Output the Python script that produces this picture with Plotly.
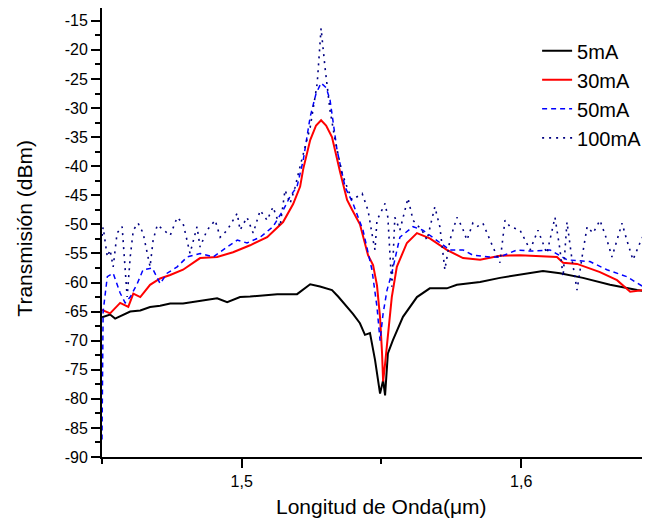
import plotly.graph_objects as go

# ---- data (wavelength in um, transmission in dBm) ----
x_5mA = [1.4500, 1.4511, 1.4529, 1.4547, 1.4572, 1.4601, 1.4637, 1.4672, 1.4708, 1.4744,
         1.4790, 1.4833, 1.4869, 1.4912, 1.4948, 1.4994, 1.5030, 1.5077, 1.5127, 1.5198,
         1.5245, 1.5280, 1.5323, 1.5345, 1.5370, 1.5398, 1.5423, 1.5441, 1.5459, 1.5477,
         1.5495, 1.5506, 1.5513, 1.5523, 1.5541, 1.5577, 1.5627, 1.5673, 1.5734, 1.5770,
         1.5853, 1.5924, 1.6078, 1.6139, 1.6221, 1.6318, 1.6415, 1.6461]
y_5mA = [-66.0, -65.8, -65.5, -66.2, -65.6, -65.0, -64.8, -64.2, -64.0, -63.6,
         -63.6, -63.3, -63.0, -62.7, -63.4, -62.5, -62.4, -62.2, -62.0, -62.0,
         -60.3, -60.7, -61.3, -62.4, -63.8, -65.4, -67.0, -69.0, -68.7, -73.3,
         -79.1, -76.8, -79.4, -72.2, -69.9, -65.9, -62.5, -61.0, -61.0, -60.4,
         -59.9, -59.2, -58.0, -58.4, -59.2, -60.4, -61.3, -61.6]

x_30mA = [1.4500, 1.4529, 1.4565, 1.4594, 1.4612, 1.4637, 1.4672, 1.4708, 1.4744, 1.4790,
          1.4851, 1.4912, 1.4969, 1.5030, 1.5091, 1.5148, 1.5184, 1.5209, 1.5220, 1.5245,
          1.5266, 1.5284, 1.5302, 1.5323, 1.5352, 1.5377, 1.5395, 1.5423, 1.5452, 1.5470,
          1.5484, 1.5495, 1.5502, 1.5506, 1.5513, 1.5520, 1.5530, 1.5537, 1.5555, 1.5591,
          1.5627, 1.5673, 1.5734, 1.5792, 1.5853, 1.5924, 1.5996, 1.6128, 1.6150, 1.6200,
          1.6282, 1.6343, 1.6390, 1.6436, 1.6461]
y_30mA = [-64.7, -65.3, -63.5, -64.2, -61.9, -62.5, -60.4, -59.3, -58.7, -57.8,
          -55.8, -55.6, -54.8, -53.6, -52.2, -49.6, -46.5, -43.5, -40.5, -35.5,
          -33.0, -32.1, -33.0, -35.0, -41.0, -45.8, -47.5, -50.0, -55.3, -57.0,
          -60.5, -66.0, -72.0, -77.0, -74.0, -70.5, -65.5, -62.5, -57.3, -53.2,
          -51.5, -52.4, -54.4, -55.8, -56.1, -55.4, -55.3, -55.6, -56.6, -56.8,
          -58.2, -59.6, -61.6, -61.3, -62.2]

x_50mA = [1.4500, 1.4501, 1.4504, 1.4519, 1.4540, 1.4565, 1.4583, 1.4601, 1.4626, 1.4647,
          1.4680, 1.4708, 1.4733, 1.4769, 1.4805, 1.4851, 1.4898, 1.4948, 1.4984, 1.5019,
          1.5066, 1.5112, 1.5148, 1.5173, 1.5198, 1.5220, 1.5245, 1.5266, 1.5284, 1.5302,
          1.5316, 1.5341, 1.5370, 1.5398, 1.5434, 1.5466, 1.5484, 1.5495, 1.5506, 1.5520,
          1.5537, 1.5566, 1.5613, 1.5648, 1.5698, 1.5745, 1.5792, 1.5827, 1.5888, 1.5924,
          1.5985, 1.6032, 1.6103, 1.6164, 1.6246, 1.6307, 1.6378, 1.6436, 1.6461]
y_50mA = [-87.0, -75.0, -65.0, -59.0, -58.4, -61.8, -63.5, -62.5, -60.2, -57.8,
          -57.5, -60.2, -58.4, -57.3, -55.6, -55.0, -55.6, -53.9, -52.7, -53.2,
          -52.2, -50.4, -47.6, -45.2, -43.5, -39.0, -31.5, -27.5, -25.7, -26.5,
          -28.6, -37.2, -43.6, -46.4, -51.0, -57.8, -64.2, -70.0, -65.3, -61.3,
          -58.4, -52.2, -50.4, -51.0, -52.7, -54.4, -54.4, -55.3, -55.6, -55.6,
          -54.4, -54.6, -54.4, -56.1, -56.4, -57.8, -59.0, -60.7, -60.5]

x_100mA = [1.4500, 1.4504, 1.4519, 1.4529, 1.4540, 1.4554, 1.4572, 1.4590, 1.4601, 1.4612,
           1.4629, 1.4647, 1.4672, 1.4683, 1.4698, 1.4719, 1.4744, 1.4769, 1.4790, 1.4815,
           1.4840, 1.4851, 1.4876, 1.4905, 1.4923, 1.4948, 1.4984, 1.4994, 1.5019, 1.5041,
           1.5066, 1.5091, 1.5112, 1.5137, 1.5155, 1.5173, 1.5191, 1.5209, 1.5245, 1.5270,
           1.5284, 1.5298, 1.5316, 1.5334, 1.5359, 1.5377, 1.5395, 1.5431, 1.5452, 1.5470,
           1.5477, 1.5484, 1.5513, 1.5523, 1.5537, 1.5548, 1.5566, 1.5595, 1.5613, 1.5645,
           1.5663, 1.5691, 1.5709, 1.5727, 1.5745, 1.5770, 1.5788, 1.5806, 1.5827, 1.5842,
           1.5863, 1.5899, 1.5924, 1.5942, 1.5960, 1.5996, 1.6032, 1.6060, 1.6092, 1.6121,
           1.6139, 1.6150, 1.6164, 1.6182, 1.6200, 1.6218, 1.6236, 1.6257, 1.6282, 1.6307,
           1.6325, 1.6343, 1.6361, 1.6378, 1.6400, 1.6425, 1.6443, 1.6461]
y_100mA = [-52.0, -50.5, -55.6, -54.4, -57.3, -51.5, -50.4, -62.5, -55.6, -51.0,
           -49.8, -51.5, -57.3, -52.7, -50.1, -51.0, -51.9, -48.8, -49.8, -55.0,
           -50.4, -53.9, -51.0, -49.3, -52.2, -51.0, -48.1, -51.0, -48.8, -51.5,
           -47.6, -49.3, -47.0, -50.4, -44.1, -46.4, -43.6, -40.0, -33.3, -25.8,
           -16.3, -23.0, -30.4, -35.5, -41.2, -43.6, -45.8, -44.7, -47.6, -52.7,
           -54.4, -49.3, -46.4, -48.8, -60.7, -48.8, -51.0, -45.5, -49.3, -51.0,
           -52.7, -47.0, -50.4, -57.8, -52.7, -48.8, -50.4, -52.7, -49.8, -50.4,
           -49.8, -53.9, -56.6, -49.3, -50.4, -51.0, -54.4, -51.0, -55.0, -48.8,
           -54.4, -59.0, -49.6, -56.1, -61.3, -55.6, -50.4, -51.5, -49.3, -52.7,
           -55.6, -52.7, -49.8, -52.7, -56.1, -53.2, -51.3, -52.0]

series_names = ["5mA", "30mA", "50mA", "100mA"]

y_tick_vals = [-90, -85, -80, -75, -70, -65, -60, -55, -50, -45, -40, -35, -30, -25, -20, -15]
y_tick_text = ["-90", "-85", "-80", "-75", "-70", "-65", "-60", "-55", "-50", "-45",
               "-40", "-35", "-30", "-25", "-20", "-15"]
x_tick_vals = [1.5, 1.6]
x_tick_text = ["1,5", "1,6"]

x_title = "Longitud de Onda(\u03bcm)"
y_title = "Transmisi\u00f3n (dBm)"

FONT = "Liberation Sans, Arial, sans-serif"

fig = go.Figure()
fig.add_trace(go.Scatter(x=x_5mA, y=y_5mA, mode="lines", name=series_names[0],
                         line=dict(color="#000000", width=2)))
fig.add_trace(go.Scatter(x=x_30mA, y=y_30mA, mode="lines", name=series_names[1],
                         line=dict(color="#ff0000", width=2)))
fig.add_trace(go.Scatter(x=x_50mA, y=y_50mA, mode="lines", name=series_names[2],
                         line=dict(color="#0000ff", width=1.5, dash="5px,4px")))
fig.add_trace(go.Scatter(x=x_100mA, y=y_100mA, mode="lines", name=series_names[3],
                         line=dict(color="#000080", width=1.6, dash="2px,5px")))

# the page body adds an 8px offset, so margins are reduced by 8px on left/top
fig.update_layout(
    width=650, height=526,
    margin=dict(l=94, r=8, t=0, b=77, pad=0, autoexpand=False),
    paper_bgcolor="white", plot_bgcolor="white",
    font=dict(family=FONT, color="black", size=16),
    showlegend=True,
    legend=dict(x=0.794, y=0.948, xanchor="left", yanchor="top",
                font=dict(size=20, family=FONT, color="black"),
                bgcolor="rgba(0,0,0,0)", borderwidth=0, tracegroupgap=0),
)

fig.update_xaxes(
    range=[1.45, 1.6461], showgrid=False, zeroline=False, automargin=False,
    showline=True, linecolor="black", linewidth=2, mirror=True,
    tickmode="array", tickvals=x_tick_vals, ticktext=x_tick_text,
    ticks="outside", ticklen=9, tickwidth=2, tickcolor="black",
    tickfont=dict(size=16, family=FONT, color="black"),
    minor=dict(tickmode="linear", tick0=1.45, dtick=0.05, ticks="outside",
               ticklen=5, tickwidth=2, tickcolor="black"),
)
fig.update_yaxes(
    range=[-90, -12.8], showgrid=False, zeroline=False, automargin=False,
    showline=True, linecolor="black", linewidth=2, mirror=False,
    tickmode="array", tickvals=y_tick_vals, ticktext=y_tick_text,
    ticks="outside", ticklen=9, tickwidth=2, tickcolor="black",
    tickfont=dict(size=16, family=FONT, color="black"),
    minor=dict(tickmode="linear", tick0=-90, dtick=2.5, ticks="outside",
               ticklen=5, tickwidth=2, tickcolor="black"),
)

fig.add_annotation(text=x_title, xref="x", yref="paper", x=1.55, y=-0.111,
                   xanchor="center", yanchor="middle", showarrow=False,
                   font=dict(size=21, family=FONT, color="black"))
fig.add_annotation(text=y_title, xref="paper", yref="paper", x=-0.142, y=0.509,
                   xanchor="center", yanchor="middle", showarrow=False, textangle=-90,
                   font=dict(size=21, family=FONT, color="black"))

fig.write_html("out.html")
